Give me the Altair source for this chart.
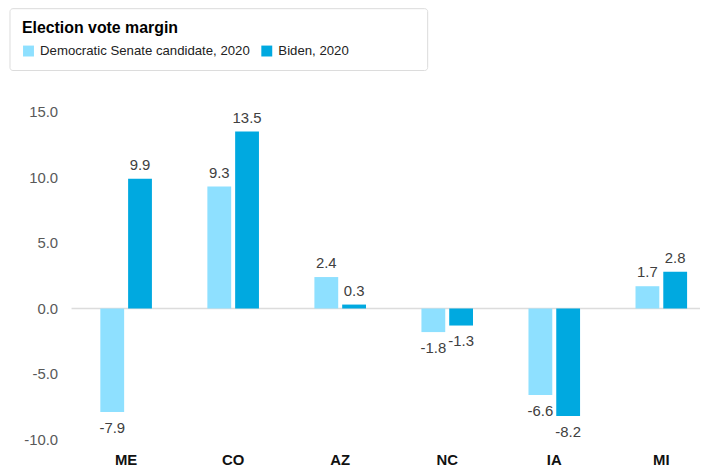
import altair as alt
import pandas as pd

states = ["ME", "CO", "AZ", "NC", "IA", "MI"]
senate = [-7.9, 9.3, 2.4, -1.8, -6.6, 1.7]
biden = [9.9, 13.5, 0.3, -1.3, -8.2, 2.8]
series = ["Democratic Senate candidate, 2020", "Biden, 2020"]
colors = ["#8EE0FF", "#00A9E0"]
y_ticks = [-10, -5, 0, 5, 10, 15]

rows = []
for s, a, b in zip(states, senate, biden):
    rows.append({"state": s, "series": series[0], "value": a, "label": f"{a:.1f}"})
    rows.append({"state": s, "series": series[1], "value": b, "label": f"{b:.1f}"})
df = pd.DataFrame(rows)

FONT = "Liberation Sans"

x = alt.X(
    "state:N", sort=states, title=None,
    scale=alt.Scale(range=[29, 620], paddingInner=0.518, paddingOuter=0),
    axis=alt.Axis(labelAngle=0, labelFont=FONT, labelFontSize=15, labelFontWeight="bold",
                  labelColor="#111111", domain=False, ticks=False, labelPadding=13,
                  labelBaseline="top"),
)
xo = alt.XOffset("series:N", sort=series,
                 scale=alt.Scale(domain=series, paddingInner=0.143, paddingOuter=0))
y = alt.Y(
    "value:Q", title=None,
    scale=alt.Scale(domain=[-10, 15], nice=False, zero=False),
    axis=alt.Axis(values=y_ticks, grid=False, domain=False, ticks=False,
                  labelExpr="replace(format(datum.value, '.1f'), '\u2212', '-')",
                  labelFont=FONT, labelFontSize=15, labelColor="#595959", labelPadding=14),
)
color = alt.Color(
    "series:N", sort=series,
    scale=alt.Scale(domain=series, range=colors),
    legend=alt.Legend(
        title="Election vote margin", orient="none", legendX=-62, legendY=-104,
        direction="horizontal", titleFont=FONT, titleFontSize=16, titleFontWeight="bold",
        titleColor="#000000", labelFont=FONT, labelFontSize=13.3, labelColor="#222222",
        labelLimit=400, titleLimit=400,
        symbolType="square", symbolSize=121, symbolStrokeWidth=0, symbolOpacity=1,
        padding=12, titlePadding=8, columnPadding=10, labelOffset=5,
    ),
)

box = alt.Chart(pd.DataFrame({"a": [0]})).mark_rect(
    fill="white", stroke="#dcdcdc", strokeWidth=1, cornerRadius=3
).encode(x=alt.value(-62), x2=alt.value(358.7), y=alt.value(-104), y2=alt.value(-41.7))

zero = alt.Chart(pd.DataFrame({"y": [0]})).mark_rule(color="#dcdcdc", strokeWidth=1.5).encode(
    y=alt.Y("y:Q", title=None)
)

base = alt.Chart(df).encode(x=x, xOffset=xo)
bars = base.mark_bar().encode(y=y, color=color)
pos = base.transform_filter("datum.value >= 0").mark_text(
    baseline="bottom", dy=-6, font=FONT, fontSize=15, color="#404040"
).encode(y=alt.Y("value:Q", title=None), text="label:N")
neg = base.transform_filter("datum.value < 0").mark_text(
    baseline="top", dy=9, font=FONT, fontSize=15, color="#404040"
).encode(y=alt.Y("value:Q", title=None), text="label:N")

chart = alt.layer(box, zero, bars, pos, neg).properties(
    width=633, height=330,
    padding={"left": 64, "top": 103, "right": 0, "bottom": 29},
    autosize=alt.AutoSizeParams(type="none"),
    background="white",
).configure_view(stroke=None)

chart.save("out.html", embed_options={"renderer": "svg", "actions": False})
